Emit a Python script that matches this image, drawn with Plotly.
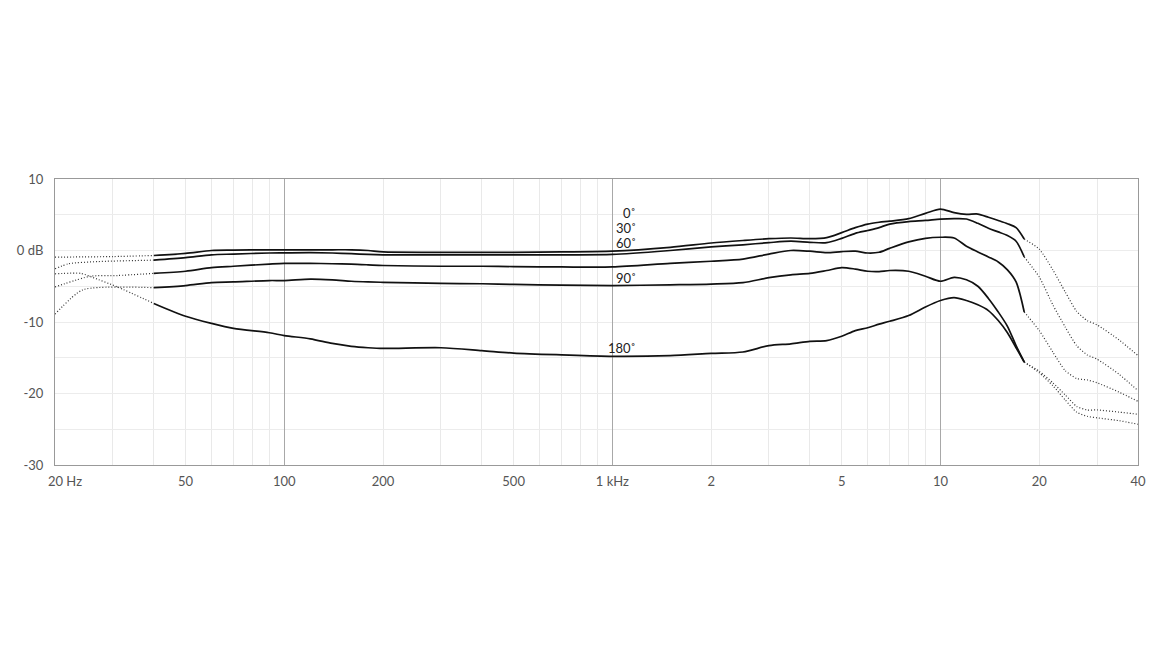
import numpy as np
import plotly.graph_objects as go

# ---------------- data ----------------
freq = [40, 50, 60, 70, 90, 100, 120, 140, 160, 180, 200, 300, 400, 500, 700,
        1000, 1500, 2000, 2500, 3000, 3500, 4000, 4500, 5000, 5500, 6000, 6500,
        7000, 8000, 9000, 10000, 11000, 12000, 13000, 14000, 15000, 16000, 17000, 18000]

deg0 = [-0.7, -0.4, 0.0, 0.05, 0.1, 0.1, 0.1, 0.1, 0.1, 0.0, -0.2, -0.25, -0.25, -0.25, -0.2,
        -0.1, 0.45, 1.05, 1.4, 1.65, 1.75, 1.65, 1.8, 2.5, 3.2, 3.7, 3.95,
        4.1, 4.45, 5.2, 5.8, 5.3, 5.05, 5.1, 4.65, 4.2, 3.75, 3.2, 1.6]
deg30 = [-1.35, -1.0, -0.6, -0.5, -0.35, -0.33, -0.3, -0.35, -0.45, -0.55, -0.6, -0.6, -0.6, -0.6, -0.6,
         -0.55, 0.0, 0.5, 0.8, 1.1, 1.3, 1.15, 1.1, 1.7, 2.4, 2.8, 3.2,
         3.7, 4.05, 4.2, 4.4, 4.45, 4.4, 3.8, 3.1, 2.6, 2.1, 1.3, -0.9]
deg60 = [-3.2, -2.9, -2.4, -2.2, -1.9, -1.8, -1.8, -1.85, -1.9, -2.0, -2.1, -2.2, -2.2, -2.25, -2.3,
         -2.3, -1.8, -1.5, -1.2, -0.5, 0.0, -0.1, -0.3, -0.15, -0.1, -0.35, -0.25,
         0.3, 1.2, 1.7, 1.85, 1.75, 0.6, -0.2, -0.9, -1.6, -2.7, -4.4, -8.6]
deg90 = [-5.2, -4.9, -4.5, -4.4, -4.2, -4.2, -4.0, -4.1, -4.3, -4.4, -4.45, -4.6, -4.65, -4.75, -4.85,
         -4.9, -4.8, -4.7, -4.5, -3.8, -3.4, -3.2, -2.8, -2.4, -2.6, -2.9, -2.95,
         -2.8, -2.9, -3.6, -4.3, -3.75, -4.1, -5.0, -6.7, -8.6, -10.6, -13.3, -15.6]
deg180 = [-7.4, -9.2, -10.2, -10.9, -11.5, -11.9, -12.35, -13.0, -13.4, -13.6, -13.7, -13.6, -14.0, -14.35, -14.6,
          -14.8, -14.7, -14.4, -14.2, -13.3, -13.05, -12.7, -12.6, -12.0, -11.2, -10.8, -10.3,
          -9.9, -9.1, -7.9, -7.0, -6.6, -7.0, -7.6, -8.4, -9.8, -11.5, -13.6, -15.6]

# dotted low-frequency extensions (20-40 Hz)
low_f0 = [20, 30, 40];                 low_0 = [-0.93, -0.85, -0.7]
low_f30 = [20, 22, 27, 40];            low_30 = [-2.56, -1.85, -1.55, -1.35]
low_f60 = [20, 25.6, 31, 40];          low_60 = [-5.1, -3.6, -3.5, -3.2]
low_f90 = [20, 24.3, 40];              low_90 = [-8.9, -5.5, -5.2]
low_f180 = [20, 24, 26, 31, 40];       low_180 = [-3.26, -3.2, -3.75, -5.1, -7.4]

# dotted high-frequency extensions (18-40 kHz)
high_f = [18000, 20000, 22000, 24000, 26000, 28000, 30000, 35000, 40000]
high_0 = [1.6, 0.2, -2.7, -5.8, -8.5, -9.8, -10.4, -12.5, -14.7]
high_30 = [-0.9, -3.7, -7.6, -10.7, -13.3, -14.6, -15.2, -17.3, -19.6]
high_60 = [-8.6, -11.2, -14.2, -16.8, -17.9, -18.1, -18.5, -19.8, -21.1]
high_90 = [-15.6, -16.9, -18.5, -20.2, -21.8, -22.3, -22.3, -22.6, -22.9]
high_180 = [-15.6, -17.1, -18.9, -20.9, -22.6, -23.2, -23.4, -23.8, -24.3]

labels = ["0˚", "30˚", "60˚", "90˚", "180˚"]
label_db = [5.3, 3.2, 1.1, -3.9, -13.7]
label_freq = 1195

x_tickvals = [20, 50, 100, 200, 500, 1000, 2000, 5000, 10000, 20000, 40000]
x_ticktext = ["\u00a0\u00a0\u00a0\u00a0\u00a0\u00a020 Hz", "50", "100", "200", "500", "1 kHz",
              "2", "5", "10", "20", "40"]
y_tickvals = [-30, -20, -10, 0, 10]
y_ticktext = ["-30", "-20", "-10", "0 dB", "10"]

# ---------------- figure ----------------
FONT = "Lato, 'Open Sans', sans-serif"
fig = go.Figure()

minor_vals = []
for dec in [10, 100, 1000, 10000]:
    for m in range(1, 10):
        v = m * dec
        if 20 <= v <= 40000:
            minor_vals.append(v)

# invisible trace for overlay axis (major decade grid)
fig.add_trace(go.Scatter(x=[20, 40000], y=[-30, 10], mode="markers",
                         marker=dict(opacity=0), xaxis="x2", yaxis="y",
                         hoverinfo="skip", showlegend=False))

solid = [deg0, deg30, deg60, deg90, deg180]
lows = [(low_f0, low_0), (low_f30, low_30), (low_f60, low_60), (low_f90, low_90), (low_f180, low_180)]
highs = [high_0, high_30, high_60, high_90, high_180]

DOT = dict(color="#333", width=1.2, dash="1px,2px", shape="spline", smoothing=0.6)
for (lf, lv), hv in zip(lows, highs):
    fig.add_trace(go.Scatter(x=lf, y=lv, mode="lines", line=DOT,
                             showlegend=False, hoverinfo="skip"))
    fig.add_trace(go.Scatter(x=high_f, y=hv, mode="lines", line=DOT,
                             showlegend=False, hoverinfo="skip"))

for vals, name in zip(solid, labels):
    fig.add_trace(go.Scatter(x=freq, y=vals, mode="lines", name=name,
                             line=dict(color="#111", width=1.7, shape="spline", smoothing=0.8),
                             showlegend=False))

for txt, ydb in zip(labels, label_db):
    fig.add_annotation(x=np.log10(label_freq), y=ydb, text=txt, showarrow=False,
                       xanchor="right", yanchor="middle",
                       font=dict(family=FONT, size=13, color="#222"))

fig.update_layout(
    width=1162, height=652,
    margin=dict(l=47, r=32, t=171, b=195, autoexpand=False),
    paper_bgcolor="white", plot_bgcolor="white",
    showlegend=False,
    font=dict(family=FONT, size=13, color="#555"),
    xaxis=dict(type="log", range=[np.log10(20), np.log10(40000)], automargin=False,
               tickmode="array", tickvals=x_tickvals, ticktext=x_ticktext,
               showgrid=False, zeroline=False, ticks="", ticklen=0, ticklabelstandoff=4,
               showline=True, linecolor="#999", linewidth=1.2, mirror=True,
               tickfont=dict(family=FONT, size=13, color="#555"),
               minor=dict(tickvals=minor_vals, showgrid=True, gridcolor="#e9e9e9",
                          gridwidth=1, ticks="")),
    xaxis2=dict(type="log", range=[np.log10(20), np.log10(40000)], overlaying="x",
                tickmode="array", tickvals=[100, 1000, 10000], showticklabels=False,
                showgrid=True, gridcolor="#a8a8a8", gridwidth=1.2, zeroline=False,
                ticks="", showline=False, layer="below traces", automargin=False),
    yaxis=dict(range=[-30, 10], tickmode="array", tickvals=y_tickvals, ticktext=y_ticktext,
               automargin=False, ticklabelstandoff=8,
               showgrid=True, gridcolor="#ececec", gridwidth=1, zeroline=False,
               ticks="", showline=True, linecolor="#999", linewidth=1.2, mirror=True,
               tickfont=dict(family=FONT, size=13, color="#555"),
               minor=dict(tickvals=[-25, -15, -5, 5], showgrid=True, gridcolor="#ececec",
                          gridwidth=1, ticks="")),
)

fig.write_html("out.html")
